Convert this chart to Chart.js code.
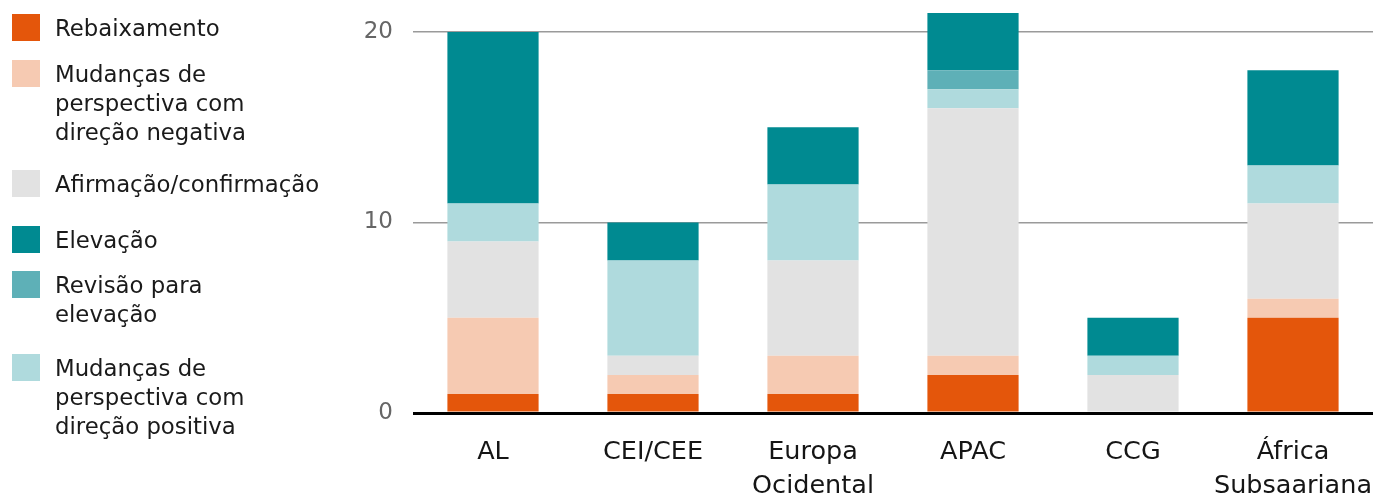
<!DOCTYPE html>
<html lang="pt">
<head>
<meta charset="utf-8">
<script src="https://cdn.jsdelivr.net/npm/chart.js@4.4.1/dist/chart.umd.min.js"></script>
<style>
  html, body { margin: 0; padding: 0; background: #fff; }
  #wrap { position: relative; width: 1377px; height: 500px; overflow: hidden; }
  #chart { position: absolute; left: 0; top: 0; }
  #legend {
    position: absolute; left: 12px; top: 0; width: 330px;
    font-family: "DejaVu Sans", sans-serif; font-size: 22.8px;
    color: #1a1a1a; line-height: 29px;
  }
  .item { position: relative; padding-left: 43px; }
  .item .sw { position: absolute; left: 0; top: 0px; width: 28px; height: 27px; }
  .item:nth-child(1) { margin-top: 14px; }
  .item:nth-child(2) { margin-top: 17px; }
  .item:nth-child(3) { margin-top: 23px; }
  .item:nth-child(4) { margin-top: 27px; }
  .item:nth-child(5) { margin-top: 16px; }
  .item:nth-child(6) { margin-top: 25px; }
</style>
</head>
<body>
<div id="wrap">
  <canvas id="chart" width="1377" height="500"></canvas>
  <div id="legend"></div>
</div>
<script>
// Regions on the x axis (multi-line labels as arrays)
const categories = ["AL", "CEI/CEE", ["Europa", "Ocidental"], "APAC", "CCG", ["África", "Subsaariana"]];

// Rating actions per region, stacked bottom to top
const rebaixamento   = [1, 1, 1, 2, 0, 5];
const mudancasNeg    = [4, 1, 2, 1, 0, 1];
const afirmacao      = [4, 1, 5, 13, 2, 5];
const mudancasPos    = [2, 5, 4, 1, 1, 2];
const revisaoElev    = [0, 0, 0, 1, 0, 0];
const elevacao       = [9, 2, 3, 3, 2, 5];

// Value-axis ticks
const yTicks = [0, 10, 20];

// Legend order and labels
const legendOrder = [
  { key: "rebaixamento", lines: ["Rebaixamento"] },
  { key: "mudancasNeg",  lines: ["Mudanças de", "perspectiva com", "direção negativa"] },
  { key: "afirmacao",    lines: ["Afirmação/confirmação"] },
  { key: "elevacao",     lines: ["Elevação"] },
  { key: "revisaoElev",  lines: ["Revisão para", "elevação"] },
  { key: "mudancasPos",  lines: ["Mudanças de", "perspectiva com", "direção positiva"] }
];

const colors = {
  rebaixamento: "#e4560b",
  mudancasNeg:  "#f6cab2",
  afirmacao:    "#e2e2e2",
  mudancasPos:  "#afdadd",
  revisaoElev:  "#5eb0b7",
  elevacao:     "#008a91"
};

const series = [
  { key: "rebaixamento", label: "Rebaixamento", data: rebaixamento },
  { key: "mudancasNeg",  label: "Mudanças de perspectiva com direção negativa", data: mudancasNeg },
  { key: "afirmacao",    label: "Afirmação/confirmação", data: afirmacao },
  { key: "mudancasPos",  label: "Mudanças de perspectiva com direção positiva", data: mudancasPos },
  { key: "revisaoElev",  label: "Revisão para elevação", data: revisaoElev },
  { key: "elevacao",     label: "Elevação", data: elevacao }
];

const FONT = "'DejaVu Sans', sans-serif";

new Chart(document.getElementById("chart"), {
  type: "bar",
  data: {
    labels: categories,
    datasets: series.map(s => ({
      label: s.label,
      data: s.data,
      backgroundColor: colors[s.key],
      borderWidth: 0,
      barPercentage: 0.57,
      categoryPercentage: 1.0
    }))
  },
  options: {
    responsive: false,
    animation: false,
    devicePixelRatio: 1,
    layout: { padding: { top: 13, right: 4, left: 0, bottom: 0 } },
    plugins: { legend: { display: false }, tooltip: { enabled: false } },
    scales: {
      x: {
        stacked: true,
        grid: { display: false },
        border: { display: false },
        ticks: {
          color: "#151515",
          font: { family: FONT, size: 25.5, lineHeight: 1.32 },
          padding: 15,
          maxRotation: 0,
          autoSkip: false
        },
        afterFit: (scale) => { scale.height = 87; scale.paddingLeft = 0; scale.paddingRight = 0; }
      },
      y: {
        stacked: true,
        min: 0,
        max: 21,
        afterBuildTicks: (scale) => { scale.ticks = yTicks.map(v => ({ value: v })); },
        afterFit: (scale) => { scale.width = 413; scale.paddingTop = 0; scale.paddingBottom = 0; },
        border: { display: false },
        grid: {
          drawTicks: false,
          color: (ctx) => ctx.tick && ctx.tick.value === 0 ? "#000" : "#9a9a9a",
          lineWidth: (ctx) => ctx.tick && ctx.tick.value === 0 ? 3 : 1.5
        },
        ticks: {
          color: "#666",
          font: { family: FONT, size: 23 },
          padding: 20
        }
      }
    }
  }
});

// Wrapped HTML legend built from the same series colours
const legendEl = document.getElementById("legend");
legendOrder.forEach(item => {
  const div = document.createElement("div");
  div.className = "item";
  const sw = document.createElement("span");
  sw.className = "sw";
  sw.style.background = colors[item.key];
  div.appendChild(sw);
  item.lines.forEach((ln, i) => {
    if (i > 0) div.appendChild(document.createElement("br"));
    div.appendChild(document.createTextNode(ln));
  });
  legendEl.appendChild(div);
});
</script>
</body>
</html>
